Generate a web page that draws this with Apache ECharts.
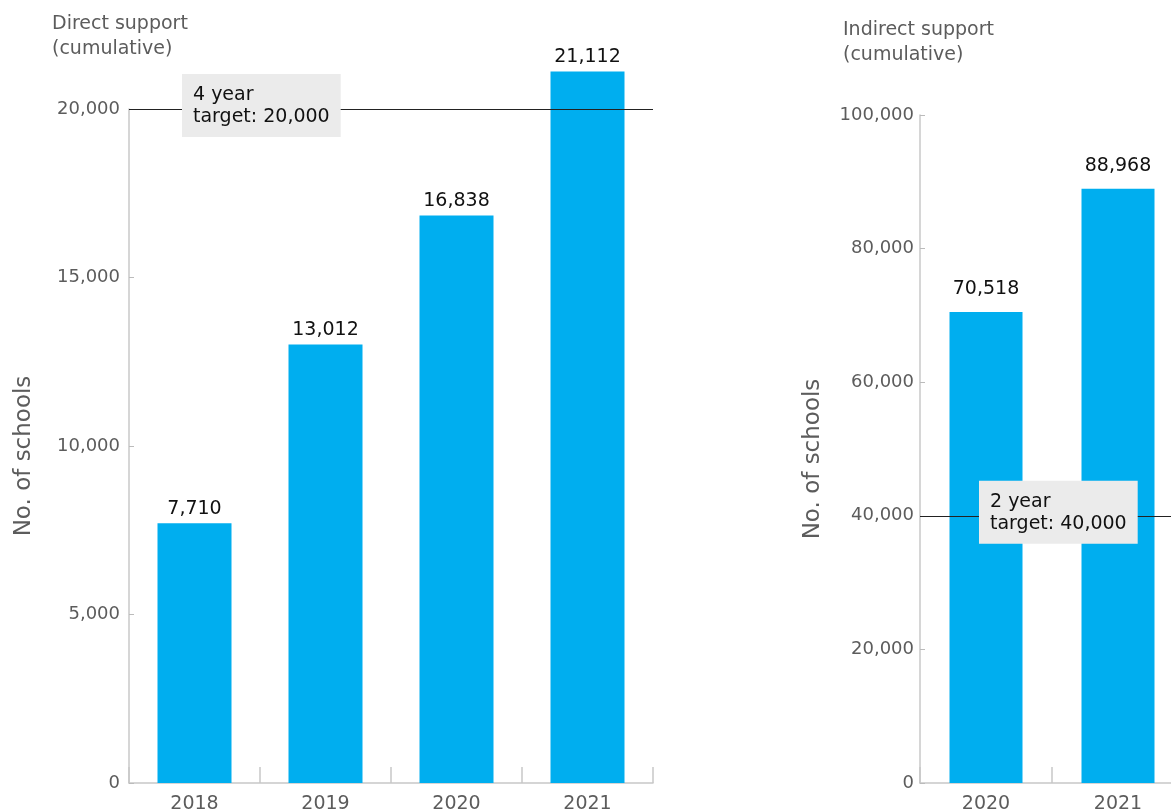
<!DOCTYPE html>
<html><head><meta charset="utf-8">
<script src="https://cdn.jsdelivr.net/npm/echarts@6/dist/echarts.min.js"></script>
<style>html,body{margin:0;padding:0;background:#fff}#c{width:1171px;height:812px}</style>
</head><body><div id="c"></div>
<script>
const directYears = ['2018','2019','2020','2021'];
const directValues = [7710, 13012, 16838, 21112];
const directTarget = 20000;
const directTargetLabel = '4 year\ntarget: 20,000';
const directTicks = [0, 5000, 10000, 15000, 20000];

const indirectYears = ['2020','2021'];
const indirectValues = [70518, 88968];
const indirectTarget = 40000;
const indirectTargetLabel = '2 year\ntarget: 40,000';
const indirectTicks = [0, 20000, 40000, 60000, 80000, 100000];

const FONT = 'DejaVu Sans';
const BAR = '#00AEEF';
const GRAY = '#5c5c5c';
const fmt = v => Number(v).toLocaleString('en-US');

function yAxis(gi, ticks, lblMargin, gap) {
  return {
    type: 'value', gridIndex: gi, min: ticks[0], max: ticks[ticks.length-1],
    interval: ticks[1]-ticks[0],
    name: 'No. of schools', nameLocation: 'middle', nameGap: gap,
    nameTextStyle: {fontFamily: FONT, fontSize: 23, color: GRAY, padding: [0, 20, 0, 0]},
    axisLine: {show: true, lineStyle: {color: '#c8c8c8', width: 1.5}},
    axisTick: {show: true, inside: true, length: 5, lineStyle: {color: '#bbbbbb'}},
    axisLabel: {fontFamily: FONT, fontSize: 18, color: GRAY, margin: lblMargin, formatter: fmt},
    splitLine: {show: false}
  };
}
function xAxis(gi, cats) {
  return {
    type: 'category', gridIndex: gi, data: cats,
    axisLine: {show: true, lineStyle: {color: '#c8c8c8', width: 1.5}},
    axisTick: {show: true, inside: true, length: 16, lineStyle: {color: '#c8c8c8', width: 1.5}},
    axisLabel: {fontFamily: FONT, fontSize: 19, color: GRAY, margin: 12}
  };
}
function barSeries(gi, vals, bw, dist, target, tlabel, dx) {
  return {
    type: 'bar', xAxisIndex: gi, yAxisIndex: gi, data: vals, barWidth: bw, clip: false,
    itemStyle: {color: BAR},
    label: {show: true, position: 'top', distance: dist, fontFamily: FONT, fontSize: 19, color: '#111', formatter: p => fmt(p.value)},
    markLine: {
      silent: true, symbol: 'none', animation: false,
      lineStyle: {color: '#222', width: 1, type: 'solid'},
      label: {
        position: 'insideStartTop', distance: [dx, -28],
        formatter: tlabel, fontFamily: FONT, fontSize: 19, lineHeight: 22, color: '#111',
        backgroundColor: '#ebebeb', padding: [10, 11, 9, 11], align: 'left'
      },
      data: [{yAxis: target}]
    }
  };
}

const chart = echarts.init(document.getElementById('c'), null, {renderer: 'canvas'});
chart.setOption({
  animation: false,
  title: [
    {text: 'Direct support\n(cumulative)', left: 47, top: 7,
     textStyle: {fontFamily: FONT, fontSize: 19, fontWeight: 'normal', color: GRAY, lineHeight: 25}},
    {text: 'Indirect support\n(cumulative)', left: 838, top: 13,
     textStyle: {fontFamily: FONT, fontSize: 19, fontWeight: 'normal', color: GRAY, lineHeight: 25}}
  ],
  grid: [
    {left: 129, top: 109, width: 524, height: 674, outerBoundsMode: 'none', containLabel: false},
    {left: 920, top: 115, width: 264, height: 668, outerBoundsMode: 'none', containLabel: false}
  ],
  xAxis: [xAxis(0, directYears), xAxis(1, indirectYears)],
  yAxis: [yAxis(0, directTicks, 9, 93), yAxis(1, indirectTicks, 6, 95)],
  series: [
    barSeries(0, directValues, 74, 5, directTarget, directTargetLabel, 53),
    barSeries(1, indirectValues, 73, 13, indirectTarget, indirectTargetLabel, 59)
  ]
});
</script></body></html>
